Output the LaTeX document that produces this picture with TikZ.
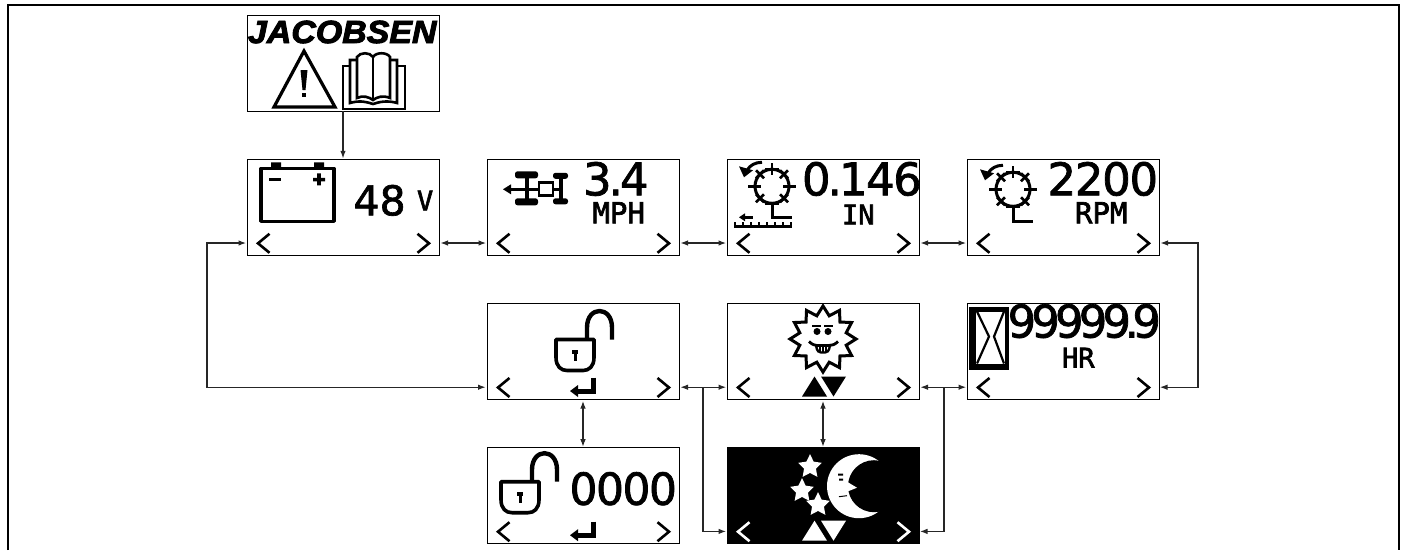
\documentclass[tikz,border=0pt]{standalone}
\usepackage{fontspec}
\usetikzlibrary{arrows.meta,calc}
\newfontfamily\dvs{DejaVu Sans}[FakeBold=1.6]
\newfontfamily\dvm{DejaVu Sans Mono}[FakeBold=2.4]
\newfontfamily\jac{Liberation Sans}[FakeStretch=1.06,FakeBold=3]
\newcommand\fsz[1]{\fontsize{#1}{#1}\selectfont}
\tikzset{
  screen/.style={draw=black,line width=1pt,anchor=north west,minimum width=192pt,minimum height=96pt,inner sep=0pt,outer sep=0pt},
  label text/.style={anchor=base west,inner sep=0pt,outer sep=0pt},
  icon/.style={line width=3.2pt,line cap=butt,line join=miter},
  chev/.style={line width=2.6pt,line join=miter,miter limit=10},
  link/.style={line width=1.05pt,draw=black!85,{Latex[length=7.5pt,width=5.5pt]}-{Latex[length=7.5pt,width=5.5pt]},shorten <=1.5pt,shorten >=1pt},
  oneway/.style={line width=1.05pt,draw=black!85,-{Latex[length=7.5pt,width=5.5pt]},shorten >=1pt},
}
\newcommand\scr[5][]{%
  \node[screen,#1] (#2) at (#3,#4) {};
  \coordinate (#2-l) at (#3,#4+83.7);
  \coordinate (#2-r) at (#3+192,#4+83.7);
  \begin{scope}[shift={(#3,#4)}]#5\end{scope}}
\newcommand\chevs[1][black]{%
  \draw[chev,#1] (22.5,74.5)--(11,84)--(22.5,93.5);
  \draw[chev,#1] (170.5,74.5)--(182,84)--(170.5,93.5);}
\newcommand\enter{%
  \draw[line width=5pt] (106,74)--(106,87.5)--(89,87.5);
  \fill (83,87.5)--(91,81.5)--(91,93.5)--cycle;}
\newcommand\lock[2]{%
  \draw[line width=3.6pt,line join=round] (#1,#2)--(#1+38,#2)--(#1+38,#2+18) .. controls (#1+38,#2+27) and (#1+33,#2+31) .. (#1+27,#2+31)--(#1+11,#2+31) .. controls (#1+5,#2+31) and (#1,#2+27) .. (#1,#2+18)--cycle;
  \draw[line width=4.4pt] (#1+31,#2) -- (#1+31,#2-12) .. controls (#1+31,#2-34) and (#1+56,#2-34) .. (#1+56,#2-12) -- (#1+56,#2);
  \fill (#1+16,#2+10) rectangle (#1+22,#2+14);
  \fill (#1+17.5,#2+14) rectangle (#1+20.5,#2+21);}
\newcommand\gear[2]{%
  \draw[line width=3pt] (#1,#2) circle[radius=17];
  \draw[line width=2.8pt] (#1,#2-23)--(#1,#2-11) (#1+11,#2)--(#1+24,#2) (#1-24,#2)--(#1-11,#2);
  \draw[line width=2.8pt] (#1-7,#2-17)--(#1+7,#2-17);
  \draw[line width=2.8pt] (#1-7,#2+17)--(#1+7,#2+17);
  \foreach \sx/\sy in {1/1,1/-1,-1/1,-1/-1}{
    \draw[line width=2.6pt] (#1+\sx*8,#2+\sy*8)--(#1+\sx*16,#2+\sy*16) (#1+\sx*16,#2+\sy*8)--(#1+\sx*8,#2+\sy*16);}
  \draw[line width=3pt] (#1-10,#2-24) .. controls (#1-17,#2-24) and (#1-22,#2-21) .. (#1-25,#2-16);
  \fill (#1-28,#2-9)--(#1-33,#2-20)--(#1-19,#2-16)--cycle;}
\newcommand\mystar[3]{%
  \fill[white] plot[samples=11,domain=0:10] ({#1+ifthenelse(mod(\x,2)<.5,#3,#3*.5)*sin(\x*36)},{#2-ifthenelse(mod(\x,2)<.5,#3,#3*.5)*cos(\x*36)}) -- cycle;}
\begin{document}
\begin{tikzpicture}[x=1pt,y=-1pt]
\useasboundingbox (0,0) rectangle (1402,550);
\fill[white] (0,0) rectangle (1402,550);
\draw[line width=2pt] (8,550)--(8,5)--(1398.7,5)--(1398.7,550);

% logo
\node[screen] (logo) at (247,15) {};
\begin{scope}[shift={(247,15)}]
  \node[label text] (jacobsen) at (1,28) {\jac\bfseries\itshape\fsz{32}JACOBSEN};
  \draw[line width=3.2pt,line join=miter] (57,36)--(88,92)--(27,92)--cycle;
  \fill (53.5,55)--(60.5,55)--(58.5,75)--(55.5,75)--cycle;
  \fill (55,78) rectangle (59,82);
  \draw[line width=2.6pt] (110,83)--(110,42) .. controls (113,37) and (123,37) .. (126,42) .. controls (129,37) and (140,37) .. (143,42)--(143,83) .. controls (136,80) and (130,82) .. (126,85) .. controls (122,82) and (116,80) .. (110,83)--cycle;
  \draw[line width=2.6pt] (126,42)--(126,85);
  \draw[line width=2.6pt] (110,45)--(103,45)--(103,88) .. controls (113,85) and (120,87) .. (126,89) .. controls (132,87) and (140,85) .. (150,88)--(150,45)--(143,45);
  \draw[line width=2.6pt] (103,51)--(96,51)--(96,94)--(158,94)--(158,51)--(150,51);
\end{scope}

% battery
\scr{bat}{247}{159.3}{%
  \chevs
  \draw[icon,line join=round] (14,9) rectangle (87,62);
  \fill (24,3) rectangle (34,9) (67,3) rectangle (77,9);
  \fill (22,18.5) rectangle (34,22);
  \fill (66,18.5) rectangle (78,22) (70.2,14) rectangle (73.8,26);
  \node[label text] (batv) at (106.5,56) {\dvs\fsz{41}48};
  \node[label text] (batu) at (170,51) {\dvm\fsz{27}V};
}
% speed
\scr{spd}{487}{159.3}{%
  \chevs
  \draw[line width=3pt] (22,30)--(51,30);
  \fill (16,30)--(24,25)--(24,35)--cycle;
  \draw[line width=4.4pt] (40,14)--(40,44);
  \fill[rounded corners=2.5pt] (28,12) rectangle (51,19) (28,39) rectangle (51,46);
  \draw[line width=2.8pt] (52,23.5) rectangle (66,36);
  \draw[line width=4.4pt] (74,15)--(74,43);
  \draw[line width=2.8pt] (66,30)--(74,30);
  \fill[rounded corners=2.5pt] (66,13.5) rectangle (81,19.5) (66,39) rectangle (81,45);
  \node[label text] (spdv) at (96,36) {\dvs\fsz{45}3\kern-3pt.\kern-3pt4};
  \node[label text] (spdu) at (105.5,64) {\dvm\fsz{29}MPH};
}
% mower height
\scr{hgt}{727}{159.3}{%
  \chevs
  \gear{45}{27}
  \draw[line width=3pt] (45,44)--(45,58.4)--(65,58.4);
  \draw[line width=2.8pt] (17,58)--(26,58);
  \fill (12,58)--(18,54)--(18,62)--cycle;
  \draw[line width=3.4pt] (7,67)--(65,67);
  \foreach \tx in {8,16,24,32,40,48,56,64}{\fill (\tx-1,63) rectangle (\tx+1,67);}
  \node[label text] (hgtv) at (75,36) {\dvs\fsz{45}0\kern-3pt.\kern-3pt1\kern-1.5pt4\kern-1.5pt6};
  \node[label text] (hgtu) at (115,65) {\dvm\fsz{27}IN};
}
% rpm
\scr{rpm}{967}{159.3}{%
  \chevs
  \gear{46}{30}
  \draw[line width=3pt] (46,47)--(46,62.5)--(66,62.5);
  \node[label text] (rpmv) at (80.5,36) {\dvs\fsz{45}2\kern-1.3pt2\kern-1.3pt0\kern-1.3pt0};
  \node[label text] (rpmu) at (108,64) {\dvm\fsz{29}RPM};
}
% lock
\scr{lck}{487}{303.5}{%
  \chevs \enter
  \lock{69}{36}
}
% sun
\scr{sun}{727}{303.5}{%
  \chevs
  \draw[line width=3pt,line join=miter] plot[samples=25,domain=0:24] ({96+ifthenelse(mod(\x,2)<.5,33,24)*sin(\x*15)},{35.5-ifthenelse(mod(\x,2)<.5,33,24)*cos(\x*15)}) -- cycle;
  \fill (90,28) circle[radius=3.5] (101,28) circle[radius=3.5];
  \draw[line width=1.8pt] (85,22.5)--(94,22.5) (97,22.5)--(106,22.5);
  \draw[line width=2.8pt] (82,38) .. controls (85,41) and (88,42) .. (90,42)--(102,42) .. controls (105,42) and (108,41) .. (111,38);
  \draw[line width=2.4pt] (89,42) .. controls (90,48) and (92,49) .. (94,49) -- (98,49) .. controls (100,49) and (102,48) .. (103,42);
  \draw[line width=1.6pt] (93,42)--(93,49) (96,42)--(96,49) (99,42)--(99,49);
  \fill (87.5,73)--(100,93)--(75,93)--cycle;
  \fill (94,73)--(119,73)--(106.5,93)--cycle;
}
% hours
\scr{hrs}{967}{303.5}{%
  \chevs
  \fill (2,3) rectangle (42,66);
  \fill[white] (9,8) rectangle (38,60);
  \draw[line width=2.2pt] (10,8)--(22,33)--(10,60) (37,8)--(27,33)--(37,60);
  \node[label text] (hrsv) at (40.5,34) {\dvs\fsz{45}9\kern-4.9pt9\kern-4.9pt9\kern-4.9pt9\kern-4.9pt9\kern-6.5pt.\kern-6.5pt9};
  \node[label text] (hrsu) at (95,64) {\dvm\fsz{27}HR};
}
% code
\scr{cod}{487}{447.7}{%
  \chevs \enter
  \lock{14}{34}
  \node[label text] (codv) at (82.5,57) {\dvs\fsz{44}0\kern-1.5pt0\kern-1.5pt0\kern-1.5pt0};
}
% moon
\scr[fill=black]{mon}{727}{447.7}{%
  \chevs[white]
  \fill[white] (132,38.5) circle[radius=32];
  \fill[black] (147,38.5) circle[radius=26];
  \fill (111,26) rectangle (116,28) (112,31) rectangle (116,33);
  \fill[white] (120,34)--(130,40)--(120,44)--cycle;
  \draw[line width=1pt] (112,49)--(120,48);
  \mystar{83}{19}{12.5}
  \mystar{75}{43}{12.5}
  \mystar{91}{57}{12.5}
  \fill[white] (87.5,73)--(100,93)--(75,93)--cycle;
  \fill[white] (94,73)--(119,73)--(106.5,93)--cycle;
}

% connectors
\draw[oneway] (logo.south) -- (bat.north);
\draw[link] (bat-r)--(spd-l);
\draw[link] (spd-r)--(hgt-l);
\draw[link] (hgt-r)--(rpm-l);
\draw[link] (lck-r)--(sun-l);
\draw[link] (sun-r)--(hrs-l);
\draw[link] (lck-l) -- ++(-280,0) |- (bat-l);
\draw[link] (rpm-r) -- ++(39,0) |- (hrs-r);
\draw[link] (lck.south)--(cod.north);
\draw[link] (sun.south)--(mon.north);
\coordinate (jl) at (703,387.2);
\coordinate (jr) at (944,387.2);
\draw[oneway] (jl) |- (mon-l);
\draw[oneway] (jr) |- (mon-r);
\end{tikzpicture}
\end{document}
